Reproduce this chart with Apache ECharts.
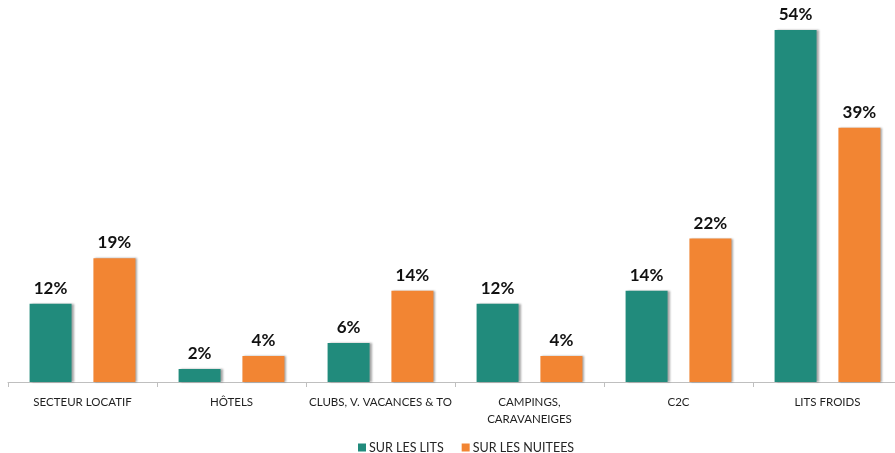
<!DOCTYPE html>
<html>
<head>
<meta charset="utf-8">
<script src="https://cdn.jsdelivr.net/npm/echarts@6/dist/echarts.min.js"></script>
<style>
  html, body { margin: 0; padding: 0; background: #ffffff; overflow: hidden; }
  /* the plot area runs slightly past the right edge of the page */
  #chart { width: 902px; height: 453px; }
</style>
</head>
<body>
<div id="chart"></div>
<script>
// Répartition par type d'hébergement
const categories = [
  'SECTEUR LOCATIF',
  'HÔTELS',
  'CLUBS, V. VACANCES & TO',
  'CAMPINGS,\nCARAVANEIGES',
  'C2C',
  'LITS FROIDS'
];
const surLesLits = [12, 2, 6, 12, 14, 54];
const surLesNuitees = [19, 4, 14, 4, 22, 39];
const seriesNames = ['SUR LES LITS', 'SUR LES NUITEES'];
const colors = ['#218B7C', '#F28533'];

const font = 'Lato, "Open Sans", "Liberation Sans", sans-serif';

const barShadow = {
  shadowColor: 'rgba(0,0,0,0.35)',
  shadowBlur: 2,
  shadowOffsetX: 2,
  shadowOffsetY: 0
};

const valueLabel = {
  show: true,
  position: 'top',
  distance: 7,
  formatter: p => p.value + '%',
  fontFamily: font,
  fontWeight: 'bold',
  fontSize: 17,
  color: '#111111'
};

const chart = echarts.init(document.getElementById('chart'), null, { renderer: 'canvas' });
chart.setOption({
  backgroundColor: '#ffffff',
  animation: false,
  color: colors,
  grid: { left: 8, top: 30, right: 0, bottom: 71, containLabel: false },
  legend: {
    top: 436,
    left: 353,
    itemWidth: 8,
    itemHeight: 8,
    itemGap: 18,
    icon: 'rect',
    textStyle: { fontFamily: font, fontSize: 12.5, color: '#262626', padding: [0, 0, 0, -2] },
    data: seriesNames
  },
  xAxis: {
    type: 'category',
    data: categories,
    axisLine: { lineStyle: { color: '#bfbfbf', width: 1 } },
    axisTick: { show: true, length: 5, lineStyle: { color: '#bfbfbf' } },
    axisLabel: {
      interval: 0,
      margin: 12,
      fontFamily: font,
      fontSize: 11.5,
      lineHeight: 17,
      color: '#1f1f1f'
    }
  },
  yAxis: {
    type: 'value',
    min: 0,
    max: 54,
    show: false,
    splitLine: { show: false }
  },
  series: [
    {
      name: seriesNames[0],
      type: 'bar',
      data: surLesLits,
      barWidth: 42,
      barGap: '52%',
      itemStyle: Object.assign({ color: colors[0] }, barShadow),
      label: valueLabel
    },
    {
      name: seriesNames[1],
      type: 'bar',
      data: surLesNuitees,
      barWidth: 42,
      itemStyle: Object.assign({ color: colors[1] }, barShadow),
      label: valueLabel
    }
  ]
});
</script>
</body>
</html>
